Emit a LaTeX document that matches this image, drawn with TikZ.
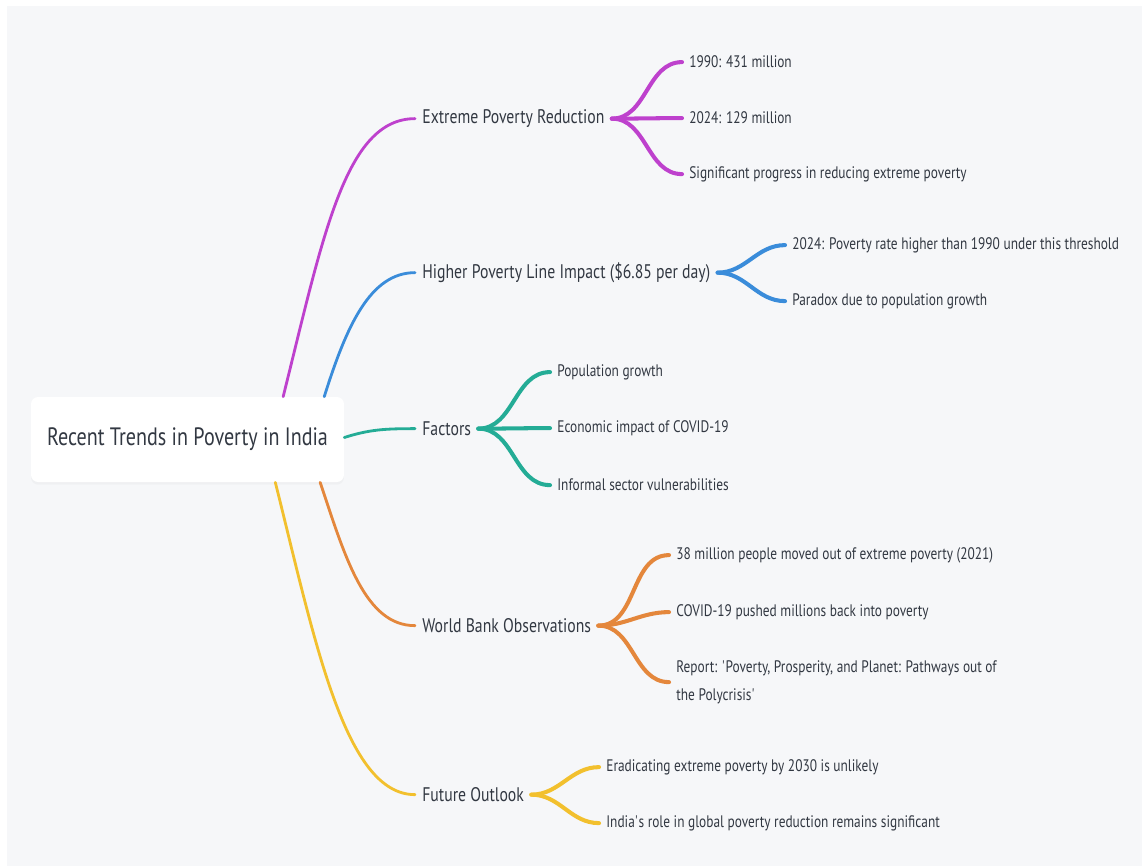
\documentclass[tikz,border=0pt]{standalone}
\usepackage{fontspec}
\setmainfont{PT Sans}[FakeStretch=0.8]
\usetikzlibrary{positioning, calc, shadows}
\definecolor{mypurple}{RGB}{190,65,205}
\definecolor{myblue}{RGB}{58,140,218}
\definecolor{myteal}{RGB}{36,172,150}
\definecolor{myorange}{RGB}{228,135,60}
\definecolor{myyellow}{RGB}{242,192,46}
\definecolor{mytext}{RGB}{50,56,66}
\definecolor{mybg}{RGB}{246,247,249}
\tikzset{
  rootbox/.style={rectangle, fill=white, rounded corners=4pt,
    minimum width=6.26cm, minimum height=1.7cm, text=mytext,
    font=\fontsize{14.3}{17}\selectfont,
    drop shadow={opacity=0.05, shadow xshift=0pt, shadow yshift=-1.5pt}},
  branch/.style={anchor=west, inner xsep=0.14cm, inner ysep=0pt, yshift=-1.5pt,
    text=mytext, font=\fontsize{11.2}{13}\selectfont},
  leaf/.style={anchor=west, inner xsep=0.14cm, inner ysep=0pt, yshift=-1.2pt,
    text=mytext, font=\fontsize{9.5}{15.9}\selectfont, align=left},
  link/.style={line width=1.6pt, line cap=round},
  fork/.style={line width=2.3pt, line cap=round}
}

\begin{document}
\begin{tikzpicture}[x=0.02cm, y=-0.02cm]
  % page and background
  \useasboundingbox (0,0) rectangle (1142,866);
  \fill[white] (0,0) rectangle (1142,866);
  \fill[mybg] (7,6) rectangle (1142,866);

  % central topic
  \node[rootbox] (root) at (187.5,439.5) {Recent Trends in Poverty in India};

  % main branches
  \node[branch] (epr) at (415,116) {Extreme Poverty Reduction};
  \node[branch] (hpl) at (415,270) {Higher Poverty Line Impact (\$6.85 per day)};
  \node[branch] (fac) at (415,426) {Factors};
  \node[branch] (wbo) at (415,623) {World Bank Observations};
  \node[branch] (fut) at (415,792) {Future Outlook};

  % leaves
  \node[leaf] (epr1) at (682,60) {1990: 431 million};
  \node[leaf] (epr2) at (682,116) {2024: 129 million};
  \node[leaf] (epr3) at (682,172) {Significant progress in reducing extreme poverty};

  \node[leaf] (hpl1) at (785,243) {2024: Poverty rate higher than 1990 under this threshold};
  \node[leaf] (hpl2) at (785,299) {Paradox due to population growth};

  \node[leaf] (fac1) at (550,370) {Population growth};
  \node[leaf] (fac2) at (550,426) {Economic impact of COVID-19};
  \node[leaf] (fac3) at (550,483) {Informal sector vulnerabilities};

  \node[leaf] (wbo1) at (669,553) {38 million people moved out of extreme poverty (2021)};
  \node[leaf] (wbo2) at (669,610) {COVID-19 pushed millions back into poverty};
  \node[leaf] (wbo3) at (669,680) {Report: \textquotesingle Poverty, Prosperity, and Planet: Pathways out of\\the Polycrisis\textquotesingle};

  \node[leaf] (fut1) at (599,765) {Eradicating extreme poverty by 2030 is unlikely};
  \node[leaf] (fut2) at (599,821) {India\textquotesingle s role in global poverty reduction remains significant};

  % root to branches
  \draw[link, mypurple] ($(root.north west)!0.805!(root.north east)$) .. controls +(40,-160) and +(-70,0) .. (epr.west);
  \draw[link, myblue] ($(root.north west)!0.936!(root.north east)$) .. controls +(22,-70) and +(-45,0) .. (hpl.west);
  \draw[link, myteal] ($(root.east)+(0,-2)$) .. controls +(25,-8) and +(-30,0) .. (fac.west);
  \draw[link, myorange] ($(root.south west)!0.923!(root.south east)$) .. controls +(25,75) and +(-50,0) .. (wbo.west);
  \draw[link, myyellow] ($(root.south west)!0.78!(root.south east)$) .. controls +(40,160) and +(-70,0) .. (fut.west);

  % branches to leaves
  \foreach \l in {epr1, epr2, epr3}
    \draw[fork, mypurple] (epr.east) to[out=0, in=180] (\l.west);
  \foreach \l in {hpl1, hpl2}
    \draw[fork, myblue] (hpl.east) to[out=0, in=180] (\l.west);
  \foreach \l in {fac1, fac2, fac3}
    \draw[fork, myteal] (fac.east) to[out=0, in=180] (\l.west);
  \foreach \l in {wbo1, wbo2, wbo3}
    \draw[fork, myorange] (wbo.east) to[out=0, in=180] (\l.west);
  \foreach \l in {fut1, fut2}
    \draw[fork, myyellow] (fut.east) to[out=0, in=180] (\l.west);
\end{tikzpicture}
\end{document}
